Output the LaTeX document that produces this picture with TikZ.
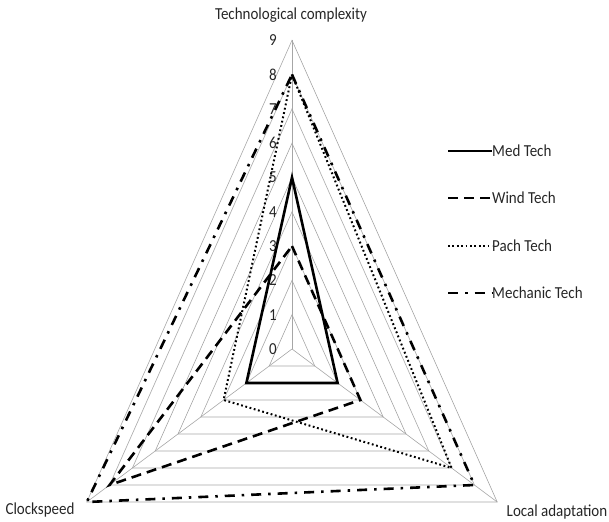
\documentclass[tikz,border=0pt]{standalone}
\usepackage{fontspec}
\setmainfont{Carlito}
\usetikzlibrary{calc}
\newcommand{\tall}[1]{\scalebox{1}[1.12]{#1}}
\begin{document}
\begin{tikzpicture}[x=1pt, y=1pt,
    gridline/.style={draw=black!35, line width=0.6pt},
    lbl/.style={font=\fontsize{15}{18}\selectfont, text=black!85, inner sep=0pt},
    med/.style={line width=2.6pt},
    wind/.style={line width=2.6pt, dash pattern=on 10pt off 6pt},
    pach/.style={line width=2pt, dash pattern=on 1.8pt off 2.6pt},
    mech/.style={line width=2.6pt, dash pattern=on 10pt off 7pt on 2.5pt off 7pt}
  ]
  \useasboundingbox (0,0) rectangle (609,521);
  \coordinate (o) at (292,172);
  \coordinate (T) at (292,480.7);
  \coordinate (R) at (497.2,19);
  \coordinate (L) at (86.8,19);
  % grid
  \foreach \k in {1,...,9}
    \draw[gridline] ($(o)!\k/9!(T)$) -- ($(o)!\k/9!(R)$) -- ($(o)!\k/9!(L)$) -- cycle;
  \draw[gridline] (o) -- (T);
  \draw[gridline] (o) -- (R);
  \draw[gridline] (o) -- (L);
  \foreach \k in {0,...,9}
    \node[lbl, anchor=east] (n\k) at ($(o)!\k/9!(T)+(-15,0)$) {\tall{\k}};
  % axis titles
  \node[lbl] (tc) at (291,506) {\tall{Technological complexity}};
  \node[lbl] (cs) at (40,11) {\tall{Clockspeed}};
  \node[lbl] (la) at (557,9) {\tall{Local adaptation}};
  % series
  \draw[med] ($(o)!5/9!(T)$) -- ($(o)!2/9!(R)$) -- ($(o)!2/9!(L)$) -- cycle;
  \draw[wind] ($(o)!3/9!(T)$) -- ($(o)!3/9!(R)$) -- ($(o)!8/9!(L)$) -- cycle;
  \draw[pach] ($(o)!8/9!(T)$) -- ($(o)!7/9!(R)$) -- ($(o)!3/9!(L)$) -- cycle;
  \draw[mech] ($(o)!8/9!(T)$) -- ($(o)!8/9!(R)$) -- (L) -- cycle;
  % legend
  \node[lbl, anchor=west] (lmed) at (492,370) {\tall{Med Tech}};
  \node[lbl, anchor=west] (lwind) at (492,323) {\tall{Wind Tech}};
  \node[lbl, anchor=west] (lpach) at (492,275) {\tall{Pach Tech}};
  \node[lbl, anchor=west] (lmech) at (492,228) {\tall{Mechanic Tech}};
  \draw[med] (448,370) -- (lmed.west);
  \draw[wind] (448,323) -- (lwind.west);
  \draw[pach] (448,275) -- (lpach.west);
  \draw[mech] (448,228) -- (lmech.west);
\end{tikzpicture}
\end{document}
